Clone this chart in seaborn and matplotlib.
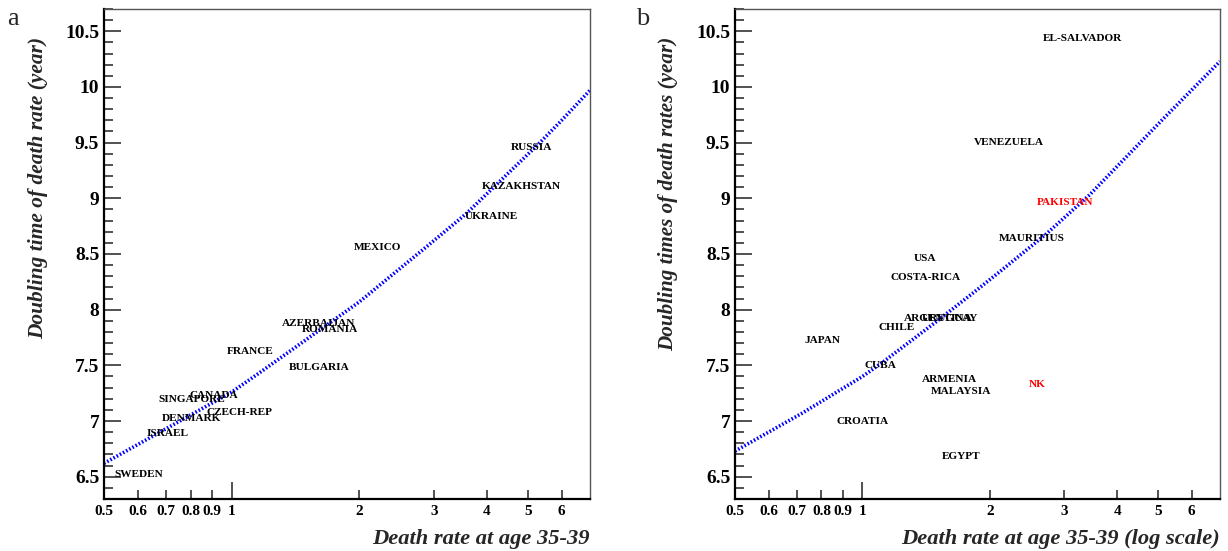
import matplotlib
matplotlib.use("Agg")
import matplotlib.pyplot as plt
import matplotlib.ticker as mticker
import seaborn as sns

# ---------------- data ----------------
left_countries = ["RUSSIA", "KAZAKHSTAN", "UKRAINE", "MEXICO", "AZERBAIJAN", "ROMANIA",
                  "FRANCE", "BULGARIA", "CANADA", "SINGAPORE", "CZECH-REP", "DENMARK",
                  "ISRAEL", "SWEDEN"]
left_x = [4.55, 3.88, 3.55, 1.94, 1.317, 1.464, 0.974, 1.365, 0.794, 0.673, 0.872, 0.685, 0.629, 0.528]
left_y = [9.43, 9.08, 8.81, 8.54, 7.85, 7.80, 7.60, 7.46, 7.21, 7.17, 7.05, 7.00, 6.87, 6.50]

left_fit_x = [0.5, 0.67, 1.0, 1.16, 2.0, 2.87, 3.57, 5.3, 6.0, 7.0]
left_fit_y = [6.62, 6.89, 7.26, 7.43, 8.07, 8.56, 8.86, 9.49, 9.70, 9.97]

right_countries = ["EL-SALVADOR", "VENEZUELA", "PAKISTAN", "MAURITIUS", "USA", "COSTA-RICA",
                   "ARGENTINA", "URUGUAY", "CHILE", "JAPAN", "CUBA", "ARMENIA", "MALAYSIA",
                   "NK", "CROATIA", "EGYPT"]
right_x = [2.666, 1.835, 2.58, 2.10, 1.323, 1.165, 1.254, 1.379, 1.092, 0.728, 1.013, 1.386, 1.448,
           2.47, 0.870, 1.540]
right_y = [10.41, 9.48, 8.94, 8.62, 8.44, 8.27, 7.90, 7.90, 7.82, 7.70, 7.48, 7.35, 7.24,
           7.31, 6.97, 6.66]
highlighted = ["PAKISTAN", "NK"]

right_fit_x = [0.5, 0.72, 1.0, 1.11, 1.48, 1.84, 2.11, 2.72, 3.44, 4.2, 5.22, 7.0]
right_fit_y = [6.73, 7.07, 7.40, 7.52, 7.88, 8.16, 8.34, 8.68, 9.03, 9.37, 9.74, 10.23]

x_ticks = [0.5, 0.6, 0.7, 0.8, 0.9, 1, 2, 3, 4, 5, 6]
x_tick_labels = ["0.5", "0.6", "0.7", "0.8", "0.9", "1", "2", "3", "4", "5", "6"]
y_ticks = [6.5, 7, 7.5, 8, 8.5, 9, 9.5, 10, 10.5]
y_tick_labels = ["6.5", "7", "7.5", "8", "8.5", "9", "9.5", "10", "10.5"]

left_ylabel = "Doubling time of death rate (year)"
right_ylabel = "Doubling times of death rates (year)"
left_xlabel = "Death rate at age 35-39"
right_xlabel = "Death rate at age 35-39 (log scale)"

# ---------------- style ----------------
sns.set_style("white")
plt.rcParams["font.family"] = ["Liberation Serif", "DejaVu Serif"]
plt.rcParams["font.weight"] = "bold"

W, H = 1228, 551
fig = plt.figure(figsize=(W / 100, H / 100), dpi=100)

def px_axes(x0, x1, y0, y1):
    return fig.add_axes([x0 / W, 1 - y1 / H, (x1 - x0) / W, (y1 - y0) / H])

ax_l = px_axes(104, 590, 9, 499)
ax_r = px_axes(735, 1220, 9, 499)

def style_axes(ax):
    ax.set_xscale("log")
    ax.set_xlim(0.5, 7.0)
    ax.set_ylim(6.3, 10.7)
    major = [t for t in x_ticks if t == 1]
    minor = [t for t in x_ticks if t != 1]
    ax.xaxis.set_major_locator(mticker.FixedLocator(major))
    ax.xaxis.set_minor_locator(mticker.FixedLocator(minor))
    ax.xaxis.set_major_formatter(mticker.FixedFormatter(
        [l for t, l in zip(x_ticks, x_tick_labels) if t == 1]))
    ax.xaxis.set_minor_formatter(mticker.FixedFormatter(
        [l for t, l in zip(x_ticks, x_tick_labels) if t != 1]))
    ax.yaxis.set_major_locator(mticker.FixedLocator(y_ticks))
    ax.yaxis.set_major_formatter(mticker.FixedFormatter(y_tick_labels))
    ax.yaxis.set_minor_locator(mticker.MultipleLocator(0.1))
    ax.tick_params(axis="x", which="both", direction="in", pad=4.0, labelsize=11,
                   colors="#222222", labelcolor="black", width=1.1,
                   bottom=True, top=False)
    ax.tick_params(axis="x", which="major", length=12.5)
    ax.tick_params(axis="x", which="minor", length=6.3)
    ax.tick_params(axis="y", which="both", direction="in", pad=3.4, labelsize=14,
                   colors="#222222", labelcolor="black", width=1.1,
                   left=True, right=False)
    ax.tick_params(axis="y", which="major", length=12.5)
    ax.tick_params(axis="y", which="minor", length=6.2)
    for lab in ax.get_xticklabels(which="both") + ax.get_yticklabels():
        lab.set_fontweight("bold")
    for s in ["left", "bottom"]:
        ax.spines[s].set_color("black")
        ax.spines[s].set_linewidth(1.6)
    for s in ["top", "right"]:
        ax.spines[s].set_color("#555555")
        ax.spines[s].set_linewidth(1.0)
    ax.set_xlabel("")
    ax.set_ylabel("")

# left panel
sns.lineplot(x=left_fit_x, y=left_fit_y, ax=ax_l, color="blue", lw=2.6, sort=False,
             estimator=None)
ax_l.lines[-1].set_dashes((0.45, 0.55))
for name, x, y in zip(left_countries, left_x, left_y):
    ax_l.text(x, y, name, ha="left", va="baseline", fontsize=8.1, fontweight="bold",
              color="black")
style_axes(ax_l)

# right panel
sns.lineplot(x=right_fit_x, y=right_fit_y, ax=ax_r, color="blue", lw=2.6, sort=False,
             estimator=None)
ax_r.lines[-1].set_dashes((0.45, 0.55))
for name, x, y in zip(right_countries, right_x, right_y):
    ax_r.text(x, y, name, ha="left", va="baseline", fontsize=8.1, fontweight="bold",
              color="red" if name in highlighted else "black")
style_axes(ax_r)

# axis titles
fig.text(38 / W, 1 - 37 / H, left_ylabel, rotation=90, ha="center", va="top",
         fontsize=15.4, fontweight="bold", style="italic")
fig.text(668 / W, 1 - 37 / H, right_ylabel, rotation=90, ha="center", va="top",
         fontsize=15.2, fontweight="bold", style="italic")
fig.text(590 / W, 1 - 544 / H, left_xlabel, ha="right", va="baseline",
         fontsize=16.2, fontweight="bold", style="italic")
fig.text(1220 / W, 1 - 544 / H, right_xlabel, ha="right", va="baseline",
         fontsize=16.2, fontweight="bold", style="italic")

# panel letters
fig.text(7 / W, 1 - 25 / H, "a", ha="left", va="baseline", fontsize=19, fontweight="normal")
fig.text(636 / W, 1 - 25 / H, "b", ha="left", va="baseline", fontsize=19, fontweight="normal")

fig.savefig("out.png", dpi=100)
